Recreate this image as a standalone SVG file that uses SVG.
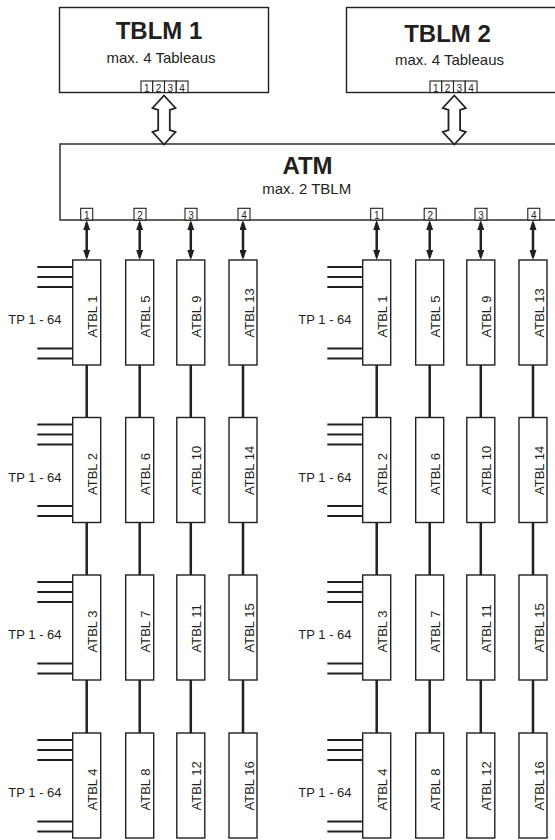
<svg xmlns="http://www.w3.org/2000/svg" width="555" height="840" viewBox="0 0 555 840">
<style>
.box{fill:#fff;stroke:#231f20;stroke-width:1.4}
.port{fill:#fff;stroke:#231f20;stroke-width:1.1}
.pt{font-family:"Liberation Sans",Arial,sans-serif;font-size:10px;fill:#231f20;text-anchor:middle}
.title{font-family:"Liberation Sans",Arial,sans-serif;font-size:24px;font-weight:bold;fill:#231f20;text-anchor:middle}
.sub{font-family:"Liberation Sans",Arial,sans-serif;font-size:15px;fill:#231f20;text-anchor:middle}
.lbl{font-family:"Liberation Sans",Arial,sans-serif;font-size:13px;fill:#231f20}
.dbl{fill:#fff;stroke:#231f20;stroke-width:1.8;stroke-linejoin:miter}
.bus{stroke:#231f20;stroke-width:2.5;fill:none}
.tp{stroke:#231f20;stroke-width:1.8;fill:none}
</style>
<defs>
<marker id="ah" viewBox="0 0 10 7" refX="7" refY="3.5" markerWidth="10" markerHeight="7" markerUnits="userSpaceOnUse" orient="auto-start-reverse">
<path d="M0,0 L10,3.5 L0,7 Z" fill="#231f20"/>
</marker>
</defs>

<g id="tblm1">
<rect class="box" x="59.5" y="7.5" width="209" height="85"/>
<text class="title" x="159" y="39">TBLM 1</text>
<text class="sub" x="161" y="63">max. 4 Tableaus</text>
<rect class="port" x="141" y="81" width="11.75" height="11.5"/>
<rect class="port" x="152.75" y="81" width="11.75" height="11.5"/>
<rect class="port" x="164.5" y="81" width="11.75" height="11.5"/>
<rect class="port" x="176.25" y="81" width="11.75" height="11.5"/>
<text class="pt" x="146.9" y="91.5">1</text>
<text class="pt" x="158.6" y="91.5">2</text>
<text class="pt" x="170.4" y="91.5">3</text>
<text class="pt" x="182.1" y="91.5">4</text>
</g>

<g id="tblm2">
<rect class="box" x="346.5" y="7.5" width="212" height="85"/>
<text class="title" x="447.5" y="41.5">TBLM 2</text>
<text class="sub" x="449.5" y="65">max. 4 Tableaus</text>
<rect class="port" x="430" y="81" width="11.75" height="11.5"/>
<rect class="port" x="441.75" y="81" width="11.75" height="11.5"/>
<rect class="port" x="453.5" y="81" width="11.75" height="11.5"/>
<rect class="port" x="465.25" y="81" width="11.75" height="11.5"/>
<text class="pt" x="435.9" y="91.5">1</text>
<text class="pt" x="447.6" y="91.5">2</text>
<text class="pt" x="459.4" y="91.5">3</text>
<text class="pt" x="471.1" y="91.5">4</text>
</g>

<g id="atm">
<rect class="box" x="60" y="144" width="505" height="76"/>
<text class="title" x="307.5" y="174">ATM</text>
<text class="sub" x="306.7" y="194.3">max. 2 TBLM</text>
<rect class="port" x="80.7" y="208.3" width="12" height="11.7"/>
<rect class="port" x="134" y="208.3" width="12" height="11.7"/>
<rect class="port" x="185" y="208.3" width="12" height="11.7"/>
<rect class="port" x="238" y="208.3" width="12" height="11.7"/>
<rect class="port" x="370.7" y="208.3" width="12" height="11.7"/>
<rect class="port" x="424.2" y="208.3" width="12" height="11.7"/>
<rect class="port" x="475" y="208.3" width="12" height="11.7"/>
<rect class="port" x="527.8" y="208.3" width="12" height="11.7"/>
<text class="pt" x="86.7" y="218.5">1</text>
<text class="pt" x="140" y="218.5">2</text>
<text class="pt" x="191" y="218.5">3</text>
<text class="pt" x="244" y="218.5">4</text>
<text class="pt" x="376.7" y="218.5">1</text>
<text class="pt" x="430.2" y="218.5">2</text>
<text class="pt" x="481" y="218.5">3</text>
<text class="pt" x="533.8" y="218.5">4</text>
</g>

<g id="connectors">
<path class="dbl" d="M164,95.5 L175.5,108 L169.8,110 L169.8,130 L175.5,132 L164,144.5 L152.5,132 L158.2,130 L158.2,110 L152.5,108 Z"/>
<path class="dbl" d="M454.3,95.5 L465.8,108 L460.1,110 L460.1,130 L465.8,132 L454.3,144.5 L442.8,132 L448.5,130 L448.5,110 L442.8,108 Z"/>
<g class="bus" marker-start="url(#ah)" marker-end="url(#ah)">
<line x1="86.7" y1="223" x2="86.7" y2="257"/>
<line x1="139.7" y1="223" x2="139.7" y2="257"/>
<line x1="190.8" y1="223" x2="190.8" y2="257"/>
<line x1="243" y1="223" x2="243" y2="257"/>
<line x1="376.7" y1="223" x2="376.7" y2="257"/>
<line x1="429.7" y1="223" x2="429.7" y2="257"/>
<line x1="480.8" y1="223" x2="480.8" y2="257"/>
<line x1="533" y1="223" x2="533" y2="257"/>
</g>
<path class="bus" d="M86.7,365 V417.5 M86.7,522.5 V575 M86.7,680 V733 M139.7,365 V417.5 M139.7,522.5 V575 M139.7,680 V733 M190.8,365 V417.5 M190.8,522.5 V575 M190.8,680 V733 M243,365 V417.5 M243,522.5 V575 M243,680 V733 M376.7,365 V417.5 M376.7,522.5 V575 M376.7,680 V733 M429.7,365 V417.5 M429.7,522.5 V575 M429.7,680 V733 M480.8,365 V417.5 M480.8,522.5 V575 M480.8,680 V733 M533,365 V417.5 M533,522.5 V575 M533,680 V733"/>
<path class="tp" d="M37.3,267 H72.7 M37.3,277 H72.7 M37.3,287 H72.7 M37.3,348.5 H72.7 M37.3,358.5 H72.7 M37.3,424.5 H72.7 M37.3,434.5 H72.7 M37.3,444.5 H72.7 M37.3,506 H72.7 M37.3,516 H72.7 M37.3,582 H72.7 M37.3,592 H72.7 M37.3,602 H72.7 M37.3,663.5 H72.7 M37.3,673.5 H72.7 M37.3,740 H72.7 M37.3,750 H72.7 M37.3,760 H72.7 M37.3,821.5 H72.7 M37.3,831.5 H72.7"/>
<path class="tp" d="M327.3,267 H362.7 M327.3,277 H362.7 M327.3,287 H362.7 M327.3,348.5 H362.7 M327.3,358.5 H362.7 M327.3,424.5 H362.7 M327.3,434.5 H362.7 M327.3,444.5 H362.7 M327.3,506 H362.7 M327.3,516 H362.7 M327.3,582 H362.7 M327.3,592 H362.7 M327.3,602 H362.7 M327.3,663.5 H362.7 M327.3,673.5 H362.7 M327.3,740 H362.7 M327.3,750 H362.7 M327.3,760 H362.7 M327.3,821.5 H362.7 M327.3,831.5 H362.7"/>
</g>

<g id="tp-labels">
<text class="lbl" x="8.3" y="324">TP 1 - 64</text>
<text class="lbl" x="8.3" y="481.5">TP 1 - 64</text>
<text class="lbl" x="8.3" y="639">TP 1 - 64</text>
<text class="lbl" x="8.3" y="797">TP 1 - 64</text>
<text class="lbl" x="298.3" y="324">TP 1 - 64</text>
<text class="lbl" x="298.3" y="481.5">TP 1 - 64</text>
<text class="lbl" x="298.3" y="639">TP 1 - 64</text>
<text class="lbl" x="298.3" y="797">TP 1 - 64</text>
</g>

<g id="atbl-left-1"><rect class="box" x="72.7" y="260" width="28" height="105"/><text class="lbl" transform="translate(97.2,337.5) rotate(-90)">ATBL 1</text></g>
<g id="atbl-left-2"><rect class="box" x="72.7" y="417.5" width="28" height="105"/><text class="lbl" transform="translate(97.2,495) rotate(-90)">ATBL 2</text></g>
<g id="atbl-left-3"><rect class="box" x="72.7" y="575" width="28" height="105"/><text class="lbl" transform="translate(97.2,652.5) rotate(-90)">ATBL 3</text></g>
<g id="atbl-left-4"><rect class="box" x="72.7" y="733" width="28" height="105"/><text class="lbl" transform="translate(97.2,810.5) rotate(-90)">ATBL 4</text></g>
<g id="atbl-left-5"><rect class="box" x="125.7" y="260" width="28" height="105"/><text class="lbl" transform="translate(150.2,337.5) rotate(-90)">ATBL 5</text></g>
<g id="atbl-left-6"><rect class="box" x="125.7" y="417.5" width="28" height="105"/><text class="lbl" transform="translate(150.2,495) rotate(-90)">ATBL 6</text></g>
<g id="atbl-left-7"><rect class="box" x="125.7" y="575" width="28" height="105"/><text class="lbl" transform="translate(150.2,652.5) rotate(-90)">ATBL 7</text></g>
<g id="atbl-left-8"><rect class="box" x="125.7" y="733" width="28" height="105"/><text class="lbl" transform="translate(150.2,810.5) rotate(-90)">ATBL 8</text></g>
<g id="atbl-left-9"><rect class="box" x="176.8" y="260" width="28" height="105"/><text class="lbl" transform="translate(201.3,337.5) rotate(-90)">ATBL 9</text></g>
<g id="atbl-left-10"><rect class="box" x="176.8" y="417.5" width="28" height="105"/><text class="lbl" transform="translate(201.3,495) rotate(-90)">ATBL 10</text></g>
<g id="atbl-left-11"><rect class="box" x="176.8" y="575" width="28" height="105"/><text class="lbl" transform="translate(201.3,652.5) rotate(-90)">ATBL 11</text></g>
<g id="atbl-left-12"><rect class="box" x="176.8" y="733" width="28" height="105"/><text class="lbl" transform="translate(201.3,810.5) rotate(-90)">ATBL 12</text></g>
<g id="atbl-left-13"><rect class="box" x="229" y="260" width="28" height="105"/><text class="lbl" transform="translate(253.5,337.5) rotate(-90)">ATBL 13</text></g>
<g id="atbl-left-14"><rect class="box" x="229" y="417.5" width="28" height="105"/><text class="lbl" transform="translate(253.5,495) rotate(-90)">ATBL 14</text></g>
<g id="atbl-left-15"><rect class="box" x="229" y="575" width="28" height="105"/><text class="lbl" transform="translate(253.5,652.5) rotate(-90)">ATBL 15</text></g>
<g id="atbl-left-16"><rect class="box" x="229" y="733" width="28" height="105"/><text class="lbl" transform="translate(253.5,810.5) rotate(-90)">ATBL 16</text></g>

<g id="atbl-right-1"><rect class="box" x="362.7" y="260" width="28" height="105"/><text class="lbl" transform="translate(387.2,337.5) rotate(-90)">ATBL 1</text></g>
<g id="atbl-right-2"><rect class="box" x="362.7" y="417.5" width="28" height="105"/><text class="lbl" transform="translate(387.2,495) rotate(-90)">ATBL 2</text></g>
<g id="atbl-right-3"><rect class="box" x="362.7" y="575" width="28" height="105"/><text class="lbl" transform="translate(387.2,652.5) rotate(-90)">ATBL 3</text></g>
<g id="atbl-right-4"><rect class="box" x="362.7" y="733" width="28" height="105"/><text class="lbl" transform="translate(387.2,810.5) rotate(-90)">ATBL 4</text></g>
<g id="atbl-right-5"><rect class="box" x="415.7" y="260" width="28" height="105"/><text class="lbl" transform="translate(440.2,337.5) rotate(-90)">ATBL 5</text></g>
<g id="atbl-right-6"><rect class="box" x="415.7" y="417.5" width="28" height="105"/><text class="lbl" transform="translate(440.2,495) rotate(-90)">ATBL 6</text></g>
<g id="atbl-right-7"><rect class="box" x="415.7" y="575" width="28" height="105"/><text class="lbl" transform="translate(440.2,652.5) rotate(-90)">ATBL 7</text></g>
<g id="atbl-right-8"><rect class="box" x="415.7" y="733" width="28" height="105"/><text class="lbl" transform="translate(440.2,810.5) rotate(-90)">ATBL 8</text></g>
<g id="atbl-right-9"><rect class="box" x="466.8" y="260" width="28" height="105"/><text class="lbl" transform="translate(491.3,337.5) rotate(-90)">ATBL 9</text></g>
<g id="atbl-right-10"><rect class="box" x="466.8" y="417.5" width="28" height="105"/><text class="lbl" transform="translate(491.3,495) rotate(-90)">ATBL 10</text></g>
<g id="atbl-right-11"><rect class="box" x="466.8" y="575" width="28" height="105"/><text class="lbl" transform="translate(491.3,652.5) rotate(-90)">ATBL 11</text></g>
<g id="atbl-right-12"><rect class="box" x="466.8" y="733" width="28" height="105"/><text class="lbl" transform="translate(491.3,810.5) rotate(-90)">ATBL 12</text></g>
<g id="atbl-right-13"><rect class="box" x="519" y="260" width="28" height="105"/><text class="lbl" transform="translate(543.5,337.5) rotate(-90)">ATBL 13</text></g>
<g id="atbl-right-14"><rect class="box" x="519" y="417.5" width="28" height="105"/><text class="lbl" transform="translate(543.5,495) rotate(-90)">ATBL 14</text></g>
<g id="atbl-right-15"><rect class="box" x="519" y="575" width="28" height="105"/><text class="lbl" transform="translate(543.5,652.5) rotate(-90)">ATBL 15</text></g>
<g id="atbl-right-16"><rect class="box" x="519" y="733" width="28" height="105"/><text class="lbl" transform="translate(543.5,810.5) rotate(-90)">ATBL 16</text></g>
</svg>
